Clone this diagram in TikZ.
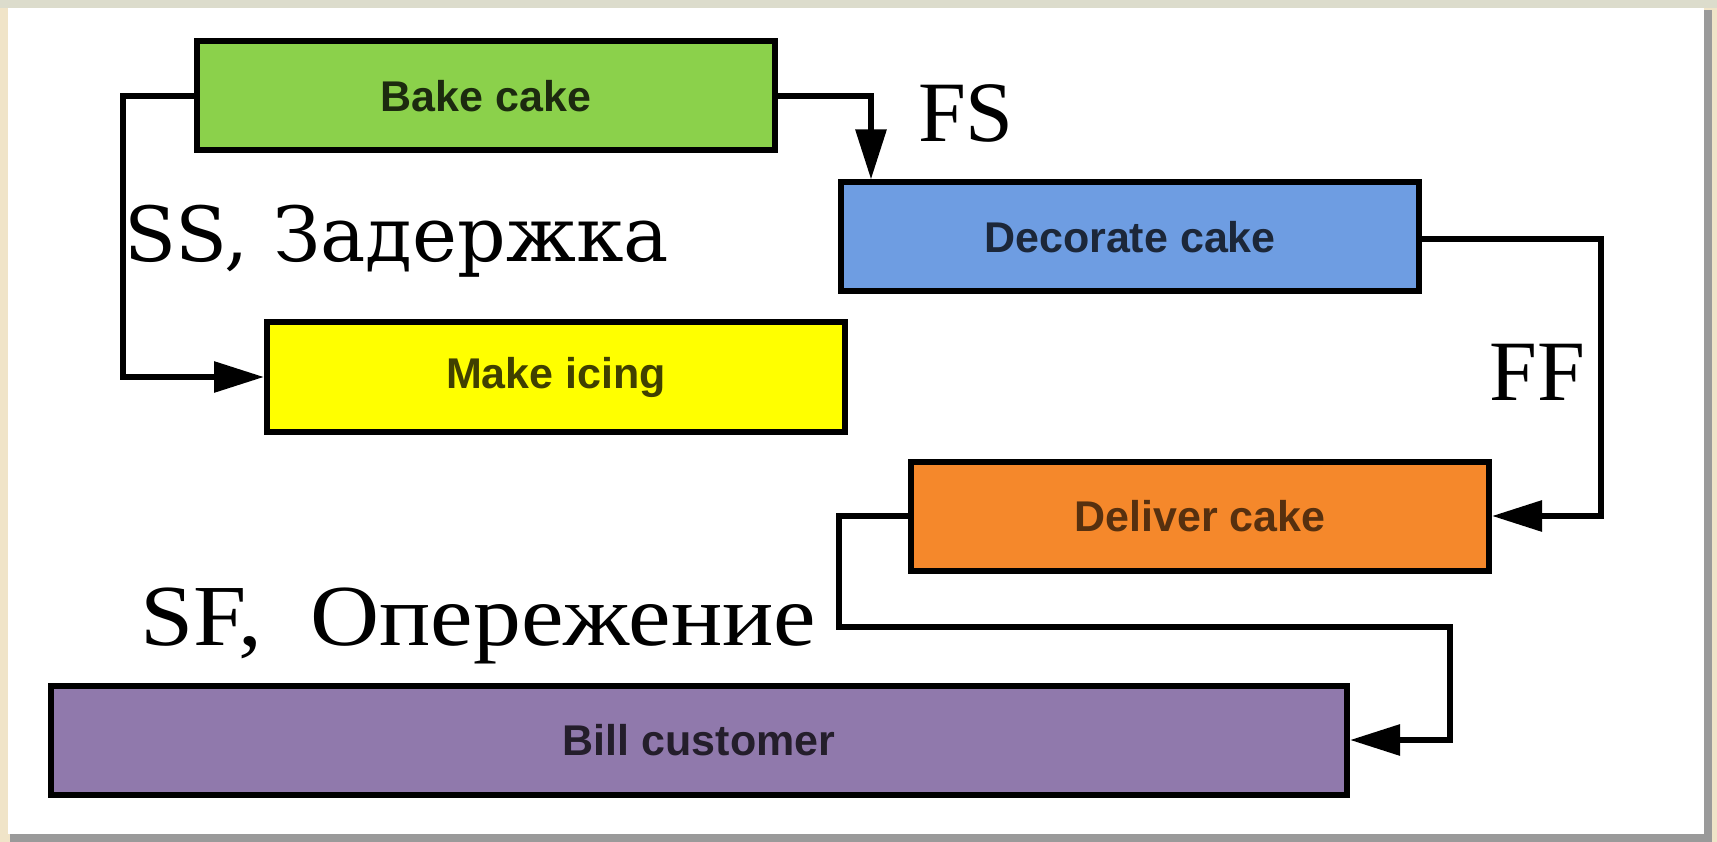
\documentclass[tikz,border=0pt]{standalone}
\usepackage{fontspec}
\setmainfont{Liberation Serif}
\newfontfamily\boxfont{Liberation Sans}
\newfontfamily\wideserif{DejaVu Serif}
\newfontfamily\stretchserif[FakeStretch=1.1]{Liberation Serif}
\usetikzlibrary{arrows.meta}
\definecolor{bakegreen}{HTML}{8BD14B}
\definecolor{decoblue}{HTML}{6E9DE2}
\definecolor{icingyellow}{HTML}{FFFF00}
\definecolor{delorange}{HTML}{F5882B}
\definecolor{billpurple}{HTML}{9079AC}
\definecolor{framebeige}{HTML}{F0E4C8}
\definecolor{frametop}{HTML}{DCDCCC}
\definecolor{frameshade}{HTML}{9A9A9A}
\tikzset{
  task/.style={draw=black, line width=6pt, minimum width=578pt, minimum height=109pt,
    inner sep=0pt, font=\boxfont\bfseries\fontsize{43}{48}\selectfont},
  link/.style={line width=6pt, -{Triangle[length=50pt,width=30pt]}},
  kind/.style={font=\fontsize{86}{96}\selectfont, inner sep=0pt}
}
\begin{document}
\begin{tikzpicture}[x=1pt, y=-1pt]
  \useasboundingbox (0,0) rectangle (1717,842);
  \fill[framebeige] (0,0) rectangle (1717,842);
  \fill[frametop] (0,0) rectangle (1717,8);
  \fill[frameshade] (10,10) rectangle (1712,842);
  \fill[white] (8,8) rectangle (1704,834);

  \node(bake) [task, fill=bakegreen, text=bakegreen!20!black] at (486,96) {Bake cake};
  \node(decorate) [task, fill=decoblue, text=decoblue!25!black] at (1130,237) {Decorate cake};
  \node(icing) [task, fill=icingyellow, text=icingyellow!25!black] at (556,377) {Make icing};
  \node(deliver) [task, fill=delorange, text=delorange!35!black] at (1200,516) {Deliver cake};
  \node(bill) [task, fill=billpurple, text=billpurple!25!black, minimum width=1296pt] at (699,740) {Bill customer};

  \draw[link] (bake.east) -| ([xshift=33pt]decorate.north west);
  \draw[link] (bake.west) -- ++(-71,0) |- (icing.west);
  \draw[link] ([yshift=-2pt]decorate.east) -- ++(179,0) |- (deliver.east);
  \draw[link] (deliver.west) -- ++(-69,0) -- ++(0,111) -| ++(611,113) -- (bill.east);

  \node(fs) [kind] at (966,113) {FS};
  \node(ss) [kind, font=\wideserif\fontsize{76}{86}\selectfont] at (397,241) {SS, Задержка};
  \node(ff) [kind] at (1537,372) {FF};
  \node(sf) [kind, font=\stretchserif\fontsize{87}{96}\selectfont] at (478,626) {SF,\ \ Опережение};
\end{tikzpicture}
\end{document}
